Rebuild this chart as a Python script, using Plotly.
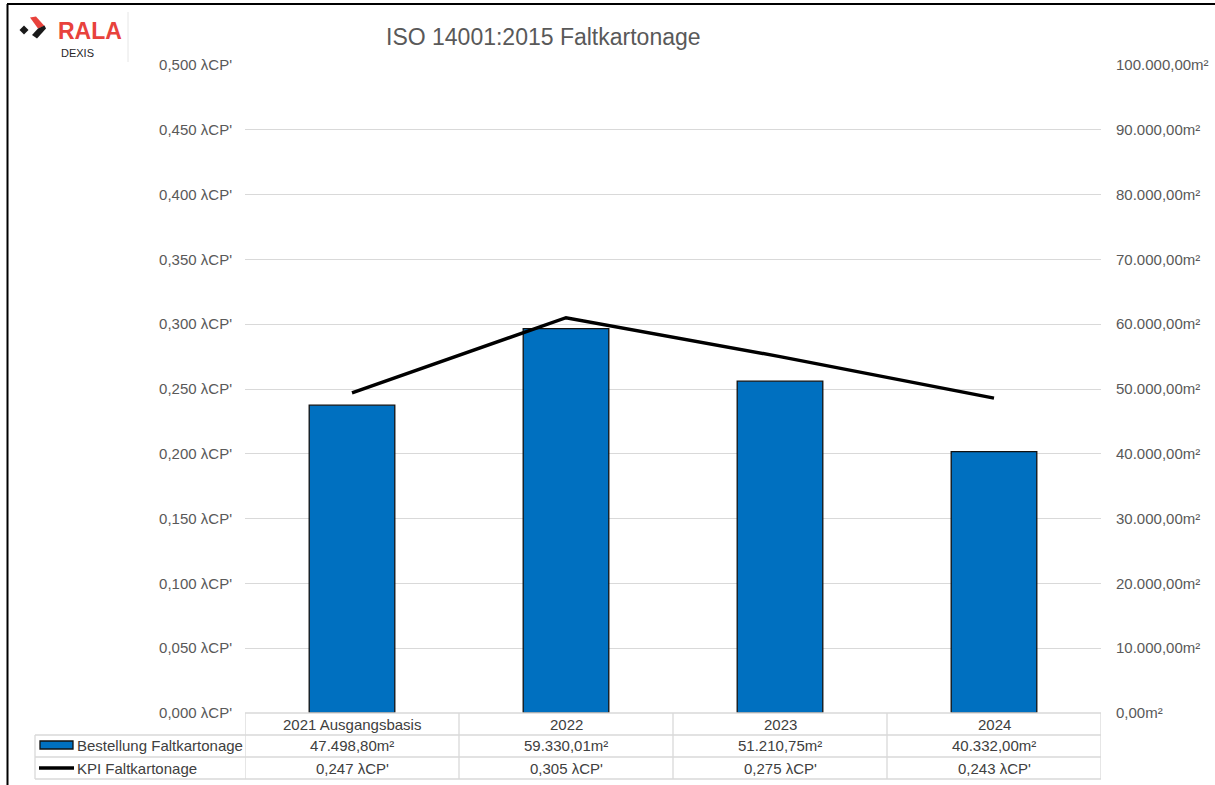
import plotly.graph_objects as go

categories = ["2021 Ausgangsbasis", "2022", "2023", "2024"]
bestellung_m2 = [47498.80, 59330.01, 51210.75, 40332.00]
kpi_lcp = [0.247, 0.305, 0.275, 0.243]
series_names = ["Bestellung Faltkartonage", "KPI Faltkartonage"]
title_text = "ISO 14001:2015 Faltkartonage"

W, H = 1215, 785
L, R, T, B = 245, 1101, 65, 713
PW, PH = R - L, B - T


def px(x):
    return (x - L) / PW


def py(y):
    return (B - y) / PH


def fmt_m2(v):
    s = f"{v:,.2f}"
    s = s.replace(",", "#").replace(".", ",").replace("#", ".")
    return s + "m²"


def fmt_kpi(v):
    return f"{v:.3f}".replace(".", ",") + " λCP'"


FONT = "Liberation Sans, Arial, sans-serif"
TICK_COL = "#595959"
TXT_COL = "#404040"
GRID = "#d9d9d9"
FS = 15

fig = go.Figure()
fig.add_trace(go.Bar(
    x=list(range(len(categories))), y=bestellung_m2, name=series_names[0], yaxis="y",
    marker=dict(color="#0070C0", line=dict(color="#111111", width=1.3)),
    width=0.4, showlegend=False,
))
fig.add_trace(go.Scatter(
    x=list(range(len(categories))), y=kpi_lcp, name=series_names[1], yaxis="y2", mode="lines",
    line=dict(color="#000000", width=3.4), showlegend=False,
))

shapes = []
annotations = []


def hline(x0, x1, y, color=GRID, w=1.3):
    shapes.append(dict(type="line", xref="paper", yref="paper", x0=px(x0), x1=px(x1),
                       y0=py(y), y1=py(y), line=dict(color=color, width=w), layer="above"))


def vline(x, y0, y1, color=GRID, w=1.3):
    shapes.append(dict(type="line", xref="paper", yref="paper", x0=px(x), x1=px(x),
                       y0=py(y0), y1=py(y1), line=dict(color=color, width=w), layer="above"))


row_y = [713, 735, 757, 779]
hline(L, R, row_y[0])
for y in row_y[1:]:
    hline(35, R, y)
vline(35, row_y[1], row_y[3])
for i in range(len(categories) + 1):
    xb = i - 0.5
    shapes.append(dict(type="line", xref="x", yref="paper", x0=xb, x1=xb,
                       y0=py(row_y[0]), y1=py(row_y[3]), line=dict(color=GRID, width=1.3),
                       layer="above"))

row_centers = [724, 746, 768]
for i, c in enumerate(categories):
    for yc, txt in zip(row_centers, [c, fmt_m2(bestellung_m2[i]), fmt_kpi(kpi_lcp[i])]):
        annotations.append(dict(x=i, xref="x", y=py(yc), yref="paper", text=txt,
                                showarrow=False, font=dict(family=FONT, size=FS, color=TXT_COL),
                                xanchor="center", yanchor="middle"))

# legend keys in table
shapes.append(dict(type="rect", xref="paper", yref="paper", x0=px(40), x1=px(73),
                   y0=py(749), y1=py(741), fillcolor="#0070C0",
                   line=dict(color="#111111", width=1.3), layer="above"))
shapes.append(dict(type="line", xref="paper", yref="paper", x0=px(39), x1=px(74),
                   y0=py(768), y1=py(768), line=dict(color="#000000", width=3.4), layer="above"))
for name, yc in zip(series_names, row_centers[1:]):
    annotations.append(dict(x=px(75), xref="paper", y=py(yc), yref="paper", text=name,
                            showarrow=False, font=dict(family=FONT, size=FS, color=TXT_COL),
                            xanchor="left", yanchor="middle"))

# title
annotations.append(dict(x=px(384), xref="paper", y=py(37), yref="paper", text=title_text,
                        showarrow=False, font=dict(family=FONT, size=23, color=TICK_COL),
                        xanchor="left", yanchor="middle"))

# outer frame lines
shapes.append(dict(type="line", xref="paper", yref="paper", x0=px(7), x1=px(1216),
                   y0=py(4), y1=py(4), line=dict(color="#000000", width=2), layer="above"))
shapes.append(dict(type="line", xref="paper", yref="paper", x0=px(7.5), x1=px(7.5),
                   y0=py(4), y1=py(786), line=dict(color="#000000", width=2), layer="above"))


def path(points):
    return "M " + " L ".join(f"{px(x):.5f},{py(y):.5f}" for x, y in points) + " Z"


shapes.append(dict(type="path", xref="paper", yref="paper",
                   path=path([(19.5, 30), (24, 25.5), (28.5, 30), (24, 34.5)]),
                   fillcolor="#1a1a1a", line=dict(width=0), layer="above"))
shapes.append(dict(type="path", xref="paper", yref="paper",
                   path=path([(30, 17.5), (36, 16.5), (44.5, 26), (38, 28.5)]),
                   fillcolor="#e8423c", line=dict(width=0), layer="above"))
shapes.append(dict(type="path", xref="paper", yref="paper",
                   path=path([(38, 28.5), (44.5, 25.5), (46, 28.5), (37, 38.5), (32, 35)]),
                   fillcolor="#1a1a1a", line=dict(width=0), layer="above"))
shapes.append(dict(type="line", xref="paper", yref="paper", x0=px(128), x1=px(128),
                   y0=py(12), y1=py(62), line=dict(color="#e6e6e6", width=1), layer="above"))
annotations.append(dict(x=px(56), xref="paper", y=py(31), yref="paper", text="<b>RALA</b>",
                        showarrow=False, font=dict(family=FONT, size=23, color="#e8423c"),
                        xanchor="left", yanchor="middle"))
annotations.append(dict(x=px(59), xref="paper", y=py(53), yref="paper", text="DEXIS",
                        showarrow=False, font=dict(family=FONT, size=11, color="#262626"),
                        xanchor="left", yanchor="middle"))

fig.update_layout(
    width=W, height=H, autosize=False,
    margin=dict(l=L, r=W - R, t=T, b=H - B, pad=0, autoexpand=False),
    paper_bgcolor="white", plot_bgcolor="white",
    separators=",.",
    font=dict(family=FONT, size=FS, color=TICK_COL),
    xaxis=dict(showticklabels=False, showgrid=False, zeroline=False, showline=False,
               ticks="", range=[-0.5, len(categories) - 0.5], fixedrange=True,
               automargin=False),
    yaxis=dict(side="right", range=[0, 100000], dtick=10000, tickformat=",.2f",
               ticksuffix="m²", showgrid=True, gridcolor=GRID, gridwidth=1.3,
               zeroline=False, showline=False, ticklabelstandoff=14, automargin=False,
               tickfont=dict(family=FONT, size=FS, color=TICK_COL)),
    yaxis2=dict(overlaying="y", side="left", range=[0, 0.5], dtick=0.05, tickformat=".3f",
                ticksuffix=" λCP'", showgrid=False, zeroline=False, showline=False,
                ticklabelstandoff=12, automargin=False,
                tickfont=dict(family=FONT, size=FS, color=TICK_COL)),
    shapes=shapes,
    annotations=annotations,
)

fig.write_html("out.html", config={"displayModeBar": False},
               post_script="document.body.style.margin='0';document.body.style.overflow='hidden';")
